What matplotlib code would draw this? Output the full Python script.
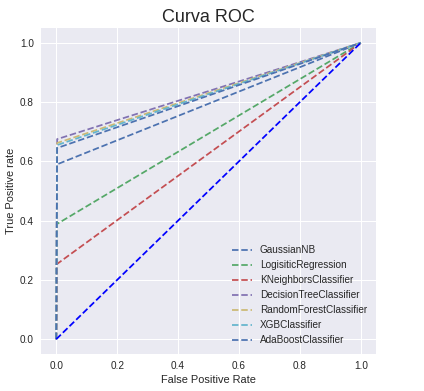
import matplotlib
matplotlib.use("Agg")
import matplotlib.pyplot as plt

models = ["GaussianNB", "LogisiticRegression", "KNeighborsClassifier",
          "DecisionTreeClassifier", "RandomForestClassifier", "XGBClassifier",
          "AdaBoostClassifier"]
fpr_mid = [0.003, 0.003, 0.003, 0.003, 0.003, 0.003, 0.003]
tpr_mid = [0.59, 0.389, 0.254, 0.675, 0.662, 0.655, 0.645]
colors = ["#4C72B0", "#55A868", "#C44E52", "#8172B2", "#CCB974", "#64B5CD", "#4C72B0"]
diag = [0.0, 1.0]
ticks = [0.0, 0.2, 0.4, 0.6, 0.8, 1.0]

plt.rcParams['font.family'] = ['Liberation Sans', 'DejaVu Sans']
plt.rcParams['text.color'] = '.15'
plt.rcParams['axes.labelcolor'] = '.15'
plt.rcParams['xtick.color'] = '.15'
plt.rcParams['ytick.color'] = '.15'

fig = plt.figure(figsize=(424/72, 391/72), dpi=72)
ax = fig.add_axes([41/424, 1-354/391, 335/424, 326/391])
ax.set_facecolor('#EAEAF2')
for s in ax.spines.values():
    s.set_visible(False)
ax.grid(True, color='white', linewidth=1)
ax.set_axisbelow(True)
ax.tick_params(length=0, pad=7, labelsize=10)

for name, fx, ty, c in zip(models, fpr_mid, tpr_mid, colors):
    ax.plot([0, fx, 1], [0, ty, 1], linestyle='--', color=c, linewidth=1.75, label=name)
ax.plot(diag, diag, 'b--', linewidth=1.75)

ax.set_xticks(ticks)
ax.set_yticks(ticks)
ax.set_xlim(-0.05, 1.05)
ax.set_ylim(-0.05, 1.05)
ax.set_xlabel("False Positive Rate", fontsize=11)
ax.set_ylabel("True Positive rate", fontsize=11)
ax.set_title("Curva ROC", fontsize=18, pad=6)
ax.legend(loc='lower right', frameon=False, fontsize=10)

fig.savefig("out.png", dpi=72)
